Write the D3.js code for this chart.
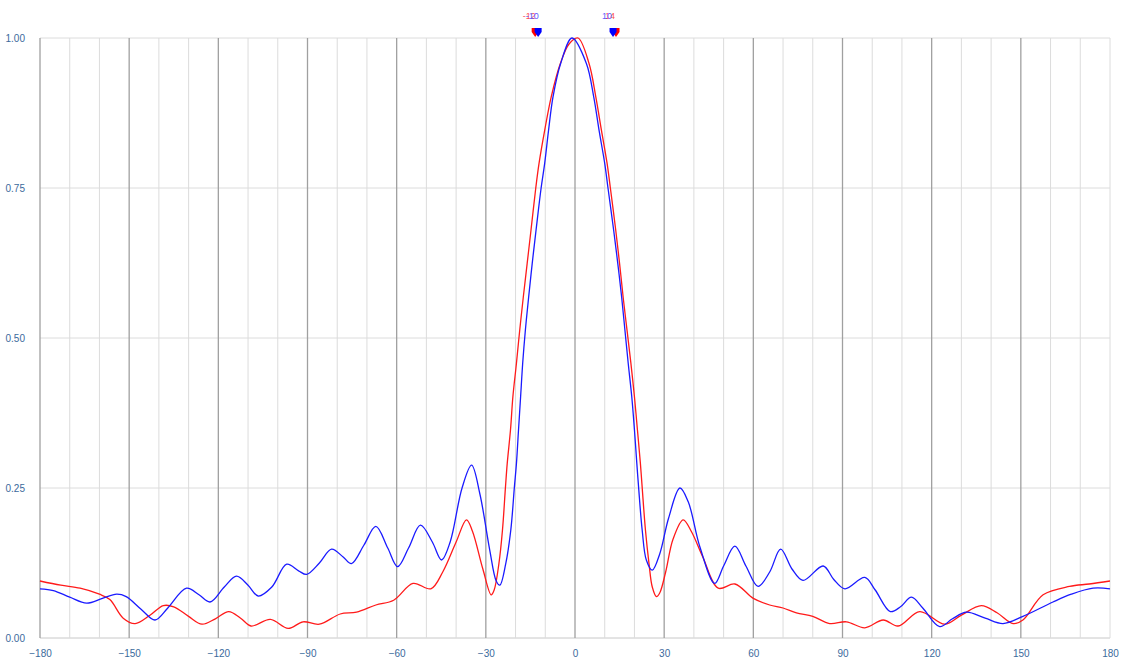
<!DOCTYPE html>
<html lang="en">
<head>
  <meta charset="UTF-8">
  <title>Radiation pattern</title>
  <script src="https://d3js.org/d3.v7.min.js"></script>
  <style>
    body { margin: 0; background: #fff; }
    .tick-label { font-family: "Liberation Sans", Arial, sans-serif; font-size: 10px; fill: #3b6a9c; }
  </style>
</head>
<body>
  <div id="chart"></div>
  <script>
    // series (angle in degrees, normalised level)
    var redAngles = [-180, -173, -166.5, -160, -156.5, -152, -148, -143, -138.5, -135, -130, -125.5, -121, -116.5, -112.5, -109,
      -102.5, -96.5, -91.5, -86, -79, -73.5, -67, -61, -54.5, -48.5, -44.5, -40, -36.5, -34.5, -31, -28.2, -27.2, -25.6, -24.4,
      -23.4, -22.8, -21.7, -20.9, -19.7, -18.6, -17.4, -16.1, -14.8, -13.2, -12.1, -10.2, -8, -4.9, -2, 1, 4.7, 7, 8.9, 10.8, 11.9,
      13.7, 15, 16.2, 17.5, 18.8, 20.0, 21, 22, 22.6, 23.7, 24.9, 26, 27.4, 28.5, 30.5, 33, 36.4, 39.2, 43, 48.2, 53.8, 60, 65.5,
      70, 74.5, 80, 85.7, 91.3, 97.5, 103.7, 108.7, 116, 124.4, 130, 136.7, 142, 147.4, 150.7, 157.5, 166.4, 173, 180];
    var redValues = [0.095, 0.088, 0.083, 0.073, 0.064, 0.033, 0.024, 0.038, 0.054, 0.052, 0.036, 0.023, 0.032, 0.044, 0.033, 0.020,
      0.031, 0.016, 0.027, 0.023, 0.040, 0.043, 0.055, 0.063, 0.091, 0.082, 0.110, 0.160, 0.197, 0.178, 0.115, 0.072, 0.080, 0.124, 0.180,
      0.251, 0.291, 0.347, 0.402, 0.458, 0.513, 0.568, 0.624, 0.680, 0.750, 0.791, 0.846, 0.902, 0.958, 0.990, 1.000, 0.958, 0.902, 0.846, 0.791, 0.750,
      0.680, 0.624, 0.568, 0.513, 0.458, 0.402, 0.347, 0.291, 0.251, 0.180, 0.124, 0.085, 0.069, 0.075, 0.110, 0.165, 0.197, 0.177, 0.135, 0.083, 0.090, 0.066, 0.055,
      0.050, 0.042, 0.036, 0.024, 0.027, 0.017, 0.030, 0.020, 0.044, 0.023, 0.038, 0.054, 0.042, 0.024, 0.030, 0.072, 0.086, 0.090, 0.095];

    var blueAngles = [-180, -175.5, -170, -164.3, -159, -154.2, -151, -146, -141.3, -137, -130.7, -126.5, -122.8, -118, -113.9, -110,
      -106.6, -102, -97, -93, -90.3, -86, -81.9, -78, -75.2, -71, -67, -63, -59.7, -56, -52, -48, -44.9, -42, -38, -34.8, -32,
      -28.7, -26.5, -25.3, -23.3, -21.6, -20.4, -19.7, -19.0, -18.3, -17.6, -16.7, -15.6, -14.4, -13.1, -11.4, -10.2, -8.9, -7.4, -4.8,
      -1, 3.8, 6.3, 8.1, 10, 11.1, 13, 14.4, 15.7, 16.8, 17.9, 19.1, 20.0, 20.8, 21.4, 22.6, 24, 26, 28.5, 31.5, 35.3, 38.1, 42,
      47, 50, 53.8, 57.5, 61.6, 65.5, 69.2, 73, 76.7, 83.5, 87, 90.8, 97.5, 101, 106.1, 109.5, 113.2, 117, 122.7, 127, 131.7, 138,
      144, 150.7, 160.8, 167, 174.3, 180];
    var blueValues = [0.082, 0.079, 0.068, 0.058, 0.066, 0.073, 0.069, 0.048, 0.030, 0.050, 0.083, 0.072, 0.060, 0.085, 0.103, 0.088,
      0.070, 0.085, 0.123, 0.112, 0.106, 0.125, 0.148, 0.135, 0.124, 0.155, 0.186, 0.150, 0.119, 0.150, 0.188, 0.160, 0.130, 0.160, 0.250, 0.288, 0.240,
      0.147, 0.095, 0.088, 0.124, 0.180, 0.251, 0.291, 0.347, 0.402, 0.458, 0.513, 0.568, 0.624, 0.680, 0.750, 0.791, 0.846, 0.902, 0.958,
      1.000, 0.958, 0.902, 0.846, 0.791, 0.750, 0.680, 0.624, 0.568, 0.513, 0.458, 0.402, 0.347, 0.291, 0.251, 0.180, 0.130, 0.113, 0.140, 0.200, 0.250, 0.227, 0.152,
      0.091, 0.120, 0.153, 0.120, 0.086, 0.110, 0.148, 0.115, 0.096, 0.120, 0.098, 0.082, 0.101, 0.080, 0.044, 0.052, 0.068, 0.050, 0.019, 0.032, 0.043, 0.033,
      0.024, 0.036, 0.060, 0.073, 0.083, 0.082];

    // beamwidth markers on top of the plot
    var redMarkerAngles = [-13.4, 13.8];
    var redMarkerLabels = ["-12", "14"];
    var blueMarkerAngles = [-12.4, 12.8];
    var blueMarkerLabels = ["-10", "10"];

    var xTicks = d3.range(-180, 181, 30);
    var xGrid = d3.range(-180, 181, 10);
    var yTicks = [0, 0.25, 0.5, 0.75, 1];

    var margin = { top: 38, right: 11, bottom: 22, left: 40 },
      width = 1121 - margin.left - margin.right,
      height = 660 - margin.top - margin.bottom;

    var svg = d3.select("#chart")
      .append("svg")
      .attr("width", 1121)
      .attr("height", 660)
      .append("g")
      .attr("transform", "translate(" + margin.left + "," + margin.top + ")");

    var x = d3.scaleLinear().domain([-180, 180]).range([0, width]);
    var y = d3.scaleLinear().domain([0, 1]).range([height, 0]);

    // horizontal grid
    svg.selectAll(".hgrid")
      .data(yTicks)
      .enter()
      .append("line")
      .attr("x1", 0).attr("x2", width)
      .attr("y1", function (d) { return y(d); })
      .attr("y2", function (d) { return y(d); })
      .style("stroke", function (d) { return d === 0 ? "#c8c8c8" : "#dcdcdc"; })
      .style("stroke-width", 1);

    // vertical grid, every 30 degrees darker
    svg.selectAll(".vgrid")
      .data(xGrid)
      .enter()
      .append("line")
      .attr("x1", function (d) { return x(d); })
      .attr("x2", function (d) { return x(d); })
      .attr("y1", 0).attr("y2", height)
      .style("stroke", function (d) {
        if (d === 180) return "#dcdcdc";
        return d % 30 === 0 ? "#a0a0a0" : "#dcdcdc";
      })
      .style("stroke-width", function (d) { return d % 30 === 0 && d !== 180 ? 1.3 : 1; });

    // axes labels (axis lines hidden, only the text is shown)
    var xAxis = svg.append("g")
      .attr("transform", "translate(0," + height + ")")
      .call(d3.axisBottom(x).tickValues(xTicks).tickSize(0).tickPadding(12));
    xAxis.select(".domain").remove();
    xAxis.selectAll("text").attr("class", "tick-label");

    var yAxis = svg.append("g")
      .call(d3.axisLeft(y).tickValues(yTicks).tickSize(0).tickPadding(15).tickFormat(d3.format(".2f")));
    yAxis.select(".domain").remove();
    yAxis.selectAll("text").attr("class", "tick-label");

    var line = d3.line()
      .x(function (d) { return x(d[0]); })
      .y(function (d) { return y(d[1]); })
      .curve(d3.curveCatmullRom.alpha(0.5));

    var redData = d3.zip(redAngles, redValues);
    var blueData = d3.zip(blueAngles, blueValues);

    svg.append("path")
      .datum(redData)
      .attr("d", line)
      .style("fill", "none")
      .style("stroke", "#ff1a1a")
      .style("stroke-width", 1.3);

    svg.append("path")
      .datum(blueData)
      .attr("d", line)
      .style("fill", "none")
      .style("stroke", "#1a1aff")
      .style("stroke-width", 1.3);

    // markers: small downward triangles with their labels
    function drawMarkers(angles, labels, color, textColor) {
      var g = svg.selectAll(null)
        .data(d3.zip(angles, labels))
        .enter()
        .append("g")
        .attr("transform", function (d) { return "translate(" + x(d[0]) + ",0)"; });
      g.append("path")
        .attr("d", "M-3.5,-10 L3.5,-10 L3.5,-6 L0,-1 L-3.5,-6 Z")
        .style("fill", color);
      g.append("text")
        .attr("x", -6)
        .attr("y", -19)
        .attr("text-anchor", "middle")
        .style("font-family", "Liberation Sans, Arial, sans-serif")
        .style("font-size", "9px")
        .style("fill", textColor)
        .text(function (d) { return d[1]; });
    }
    drawMarkers(redMarkerAngles, redMarkerLabels, "#ff0000", "#ff5050");
    drawMarkers(blueMarkerAngles, blueMarkerLabels, "#0000ff", "#6060ff");
  </script>
</body>
</html>
